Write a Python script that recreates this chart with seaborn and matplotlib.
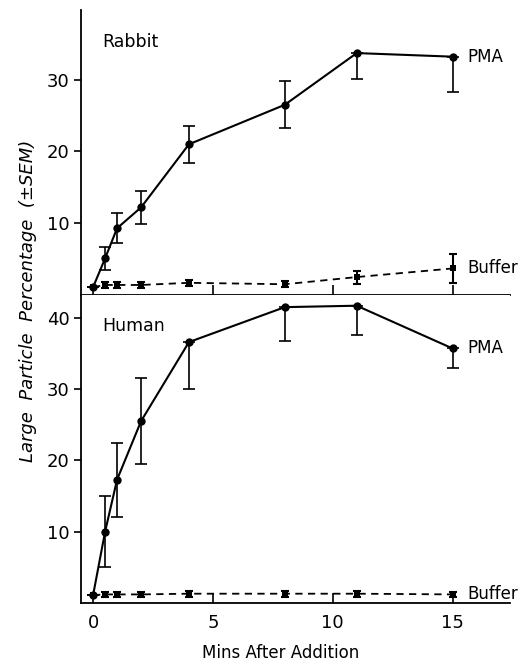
import matplotlib
matplotlib.use("Agg")
import matplotlib.pyplot as plt
import seaborn as sns
import numpy as np
import pandas as pd

# Datos
minutos = [0, 0.5, 1, 2, 4, 8, 11, 15]

conejo_pma = [1.1, 5.1, 9.3, 12.2, 21.0, 26.5, 33.7, 33.2]
conejo_pma_err_inf = [0, 1.6, 2.1, 2.3, 2.6, 3.3, 3.6, 4.9]
conejo_pma_err_sup = [0, 1.6, 2.1, 2.3, 2.6, 3.3, 0, 0]

conejo_buffer = [1.1, 1.4, 1.4, 1.4, 1.7, 1.5, 2.5, 3.7]
conejo_buffer_err = [0, 0.4, 0.4, 0.4, 0.4, 0.4, 0.9, 2.0]

humano_pma = [1.1, 10.0, 17.3, 25.5, 36.6, 41.5, 41.7, 35.7]
humano_pma_err_inf = [0, 5.0, 5.2, 6.0, 6.6, 4.8, 4.1, 2.7]
humano_pma_err_sup = [0, 5.0, 5.2, 6.0, 0, 0, 0, 0]

humano_buffer = [1.1, 1.2, 1.2, 1.2, 1.3, 1.3, 1.3, 1.2]
humano_buffer_err = [0, 0.4, 0.4, 0.4, 0.4, 0.4, 0.4, 0.4]

sns.set_style("ticks", {'axes.edgecolor': 'black', 'text.color': 'black',
                        'xtick.color': 'black', 'ytick.color': 'black',
                        'axes.labelcolor': 'black'})
plt.rcParams['font.family'] = ['DejaVu Sans']

fig = plt.figure(figsize=(5.2, 6.67), dpi=100)
ax1 = fig.add_axes([0.156, 0.5577, 0.825, 0.4273])
ax2 = fig.add_axes([0.156, 0.096, 0.825, 0.4617])


def panel(ax, pma, e_inf, e_sup, buf, buf_err, nombre, y_nombre, ylim, yticks):
    df = pd.DataFrame({'min': minutos, 'pma': pma, 'buf': buf})
    sns.lineplot(data=df, x='min', y='pma', ax=ax, color='black', lw=1.5,
                 marker='o', markersize=6, markeredgewidth=0)
    sns.lineplot(data=df, x='min', y='buf', ax=ax, color='black', lw=1.3,
                 linestyle=(0, (4, 3)), marker='s', markersize=4,
                 markeredgewidth=0)
    ax.errorbar(minutos, pma, yerr=[e_inf, e_sup], fmt='none', ecolor='black',
                elinewidth=1.2, capsize=4, capthick=1.2)
    ax.errorbar(minutos, buf, yerr=buf_err, fmt='none', ecolor='black',
                elinewidth=1.5, capsize=3, capthick=1.5)
    ax.text(15.6, pma[-1], 'PMA', va='center', ha='left', fontsize=12)
    ax.text(15.6, buf[-1], 'Buffer', va='center', ha='left', fontsize=12)
    ax.text(0.4, y_nombre, nombre, va='center', ha='left', fontsize=12.5)
    ax.set_xlim(-0.5, 17.4)
    ax.set_ylim(*ylim)
    ax.set_yticks(yticks)
    ax.set_xticks([0, 5, 10, 15])
    ax.set_xlabel('')
    ax.set_ylabel('')
    ax.tick_params(axis='x', direction='in', length=7, width=1.2, labelsize=13,
                   pad=8)
    ax.tick_params(axis='y', direction='out', length=5, width=1.2, labelsize=13)
    sns.despine(ax=ax)
    for s in ['left', 'bottom']:
        ax.spines[s].set_linewidth(1.3)


panel(ax1, conejo_pma, conejo_pma_err_inf, conejo_pma_err_sup,
      conejo_buffer, conejo_buffer_err, 'Rabbit', 35.3, (0, 39.7), [10, 20, 30])
panel(ax2, humano_pma, humano_pma_err_inf, humano_pma_err_sup,
      humano_buffer, humano_buffer_err, 'Human', 38.8, (0, 43.2),
      [10, 20, 30, 40])

ax1.tick_params(axis='x', labelbottom=False)

fig.text(0.054, 0.549, 'Large  Particle  Percentage  (\u00b1SEM)', rotation=90,
         ha='center', va='center', fontsize=13, style='italic')
fig.text(0.54, 0.021, 'Mins After Addition', ha='center', va='center',
         fontsize=12)

fig.savefig('out.png', dpi=100)
